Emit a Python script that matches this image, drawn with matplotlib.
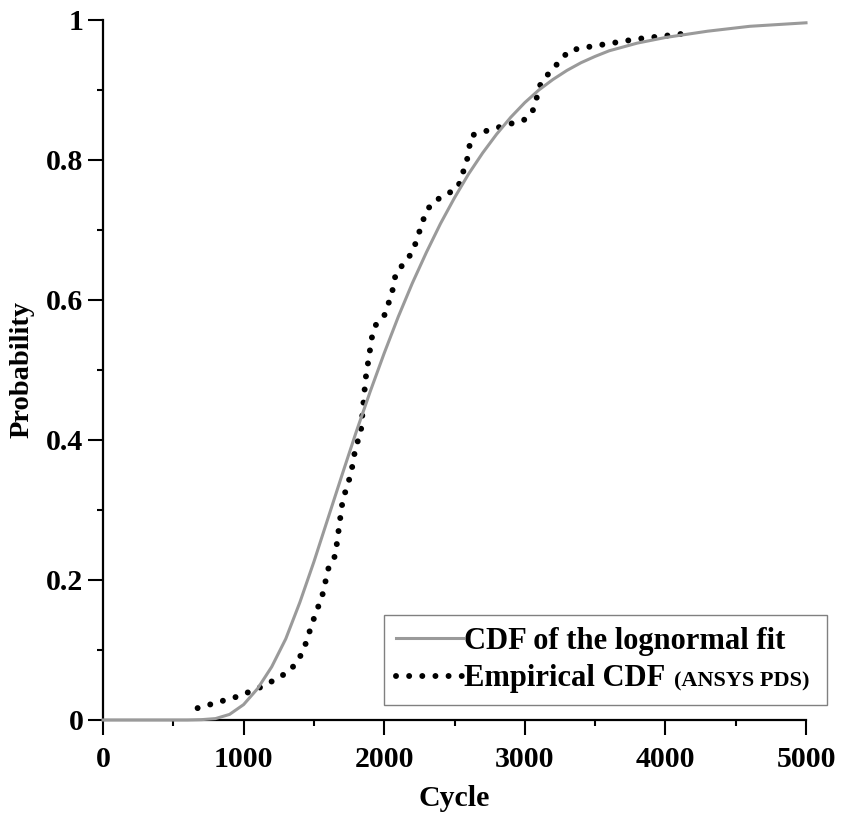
import matplotlib.pyplot as plt

# lognormal fit
cycle_fit = [0, 600, 700, 800, 900, 1000, 1100, 1200, 1300, 1400, 1500, 1600, 1700,
             1800, 1900, 2000, 2100, 2200, 2300, 2400, 2500, 2600, 2700, 2800, 2900,
             3000, 3100, 3200, 3300, 3400, 3500, 3600, 3800, 4000, 4300, 4600, 5000]
prob_fit = [0.0, 0.0, 0.0005, 0.002, 0.008, 0.022, 0.045, 0.076, 0.116, 0.168, 0.226,
            0.288, 0.350, 0.411, 0.469, 0.524, 0.576, 0.624, 0.668, 0.709, 0.746, 0.780,
            0.810, 0.837, 0.861, 0.882, 0.900, 0.915, 0.928, 0.939, 0.948, 0.956, 0.967,
            0.975, 0.984, 0.991, 0.996]

# empirical CDF (ANSYS PDS)
cycle_emp = [673, 965, 1147, 1321, 1385, 1430, 1491, 1560, 1605, 1652, 1691, 1705,
             1764, 1797, 1833, 1868, 1913, 1942, 2008, 2065, 2082, 2143, 2203, 2297,
             2347, 2523, 2587, 2620, 2717, 3004, 3061, 3115, 3181, 3314, 3405, 3803, 4198]
prob_emp = [0.017, 0.034, 0.049, 0.069, 0.084, 0.102, 0.140, 0.178, 0.218, 0.235, 0.294,
            0.314, 0.352, 0.390, 0.410, 0.488, 0.547, 0.565, 0.580, 0.618, 0.638, 0.653,
            0.669, 0.726, 0.740, 0.760, 0.798, 0.835, 0.841, 0.858, 0.872, 0.911, 0.926,
            0.956, 0.960, 0.973, 0.982]

x_ticks = [0, 1000, 2000, 3000, 4000, 5000]
x_minor = [500, 1500, 2500, 3500, 4500]
y_ticks = [0, 0.2, 0.4, 0.6, 0.8, 1]
y_minor = [0.1, 0.3, 0.5, 0.7, 0.9]
y_tick_labels = ["0", "0.2", "0.4", "0.6", "0.8", "1"]

plt.rcParams['font.family'] = ['Liberation Serif', 'DejaVu Serif']
plt.rcParams['font.weight'] = 'bold'

fig = plt.figure(figsize=(8.41, 8.16), dpi=100)
ax = fig.add_axes([103 / 841, 96 / 816, 703 / 841, 700 / 816])

emp, = ax.plot(cycle_emp, prob_emp, color='black', lw=4.3, linestyle=(0, (0.001, 2.2)),
               dash_capstyle='round', zorder=2)
fit, = ax.plot(cycle_fit, prob_fit, color='#9a9a9a', lw=2.2, zorder=3, clip_on=False)

ax.set_xlim(0, 5000)
ax.set_ylim(0, 1)
ax.set_xticks(x_ticks)
ax.set_xticks(x_minor, minor=True)
ax.set_yticks(y_ticks)
ax.set_yticks(y_minor, minor=True)
ax.set_yticklabels(y_tick_labels)

for s in ['top', 'right']:
    ax.spines[s].set_visible(False)
for s in ['left', 'bottom']:
    ax.spines[s].set_linewidth(1.6)

ax.tick_params(which='major', direction='out', length=10.5, width=1.5, labelsize=21.5)
ax.tick_params(which='minor', direction='out', length=4.5, width=1.5)
ax.tick_params(axis='x', which='major', pad=8)
ax.tick_params(axis='y', which='major', pad=3.5)

ax.set_xlabel("Cycle", fontsize=21.5, fontweight='bold')
ax.xaxis.set_label_coords(0.5, -0.093)
ax.set_ylabel("Probability", fontsize=20.5, fontweight='bold')
ax.yaxis.set_label_coords(-0.098, 0.5)

leg = ax.legend([fit, emp], ["CDF of the lognormal fit", "Empirical CDF"],
                loc='lower left', mode='expand',
                bbox_to_anchor=(384 / 841, 1 - 705 / 816, 443 / 841, 90 / 816),
                bbox_transform=fig.transFigure, borderaxespad=0,
                prop={'size': 22, 'weight': 'bold'}, handlelength=2.2,
                handletextpad=0.05, labelspacing=0.28, borderpad=0.38,
                fancybox=False, framealpha=1, edgecolor='#808080')
leg.get_frame().set_linewidth(1.0)

ax.annotate("(ANSYS PDS)", xy=(1, 0), xycoords=leg.get_texts()[1],
            xytext=(6, 1.3), textcoords='offset points', ha='left', va='bottom',
            fontsize=16, fontweight='bold', zorder=6)

fig.savefig("out.png", dpi=100)
